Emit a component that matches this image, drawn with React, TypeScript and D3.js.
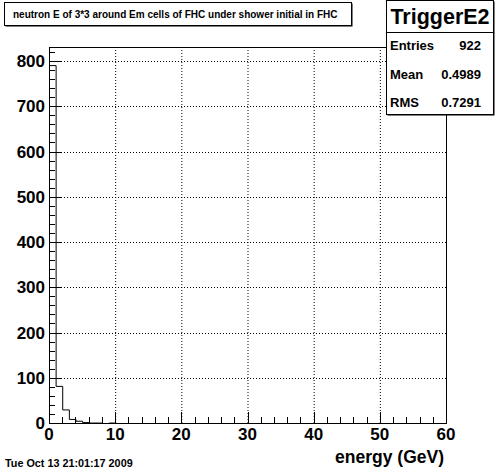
import React from "react";
import * as d3 from "d3";

const binEdgesStart = 0;
const binWidth = 1;
const binCounts = [791, 82, 30, 9, 5, 2, 1, 1, 0, 1, 0, 0, 0, 0, 0, 0, 0, 0, 0, 0, 0, 0, 0, 0, 0, 0, 0, 0, 0, 0, 0, 0, 0, 0, 0, 0, 0, 0, 0, 0, 0, 0, 0, 0, 0, 0, 0, 0, 0, 0, 0, 0, 0, 0, 0, 0, 0, 0, 0, 0];
const xTicks = [0, 10, 20, 30, 40, 50, 60];
const yTicks = [0, 100, 200, 300, 400, 500, 600, 700, 800];
const titleText = "neutron E of 3*3 around Em cells of FHC under shower initial in FHC";
const statsName = "TriggerE2";
const statsLabels = ["Entries", "Mean", "RMS"];
const statsValues = ["922", "0.4989", "0.7291"];
const xAxisTitle = "energy (GeV)";
const dateText = "Tue Oct 13 21:01:17 2009";

const W = 496, H = 472;
const FL = 49, FR = 446, FT = 47, FB = 423;
const FONT = "'Liberation Sans', Arial, Helvetica, sans-serif";

export default function App() {
  const x = d3.scaleLinear().domain([0, 60]).range([FL, FR]);
  const y = d3.scaleLinear().domain([0, 831]).range([FB, FT]);

  // step path
  const pts: [number, number][] = [[0, 0]];
  binCounts.forEach((c, i) => {
    const x0 = binEdgesStart + i * binWidth;
    pts.push([x0, c]);
    pts.push([x0 + binWidth, c]);
  });
  pts.push([60, 0]);
  const line = d3.line<[number, number]>().x(d => x(d[0])).y(d => y(d[1]));

  const xMinor = d3.range(0, 60.01, 2);
  const yMinor = d3.range(0, 831, 20);

  return (
    <svg width={W} height={H} style={{ position: "absolute", left: 0, top: 0, background: "#fff" }} fontFamily={FONT}>
      <rect x={0} y={0} width={W} height={H} fill="#fff" />
      {/* grid */}
      {xTicks.filter(t => t > 0 && t < 60).map(t => (
        <line key={"gx" + t} x1={x(t) + 0.5} x2={x(t) + 0.5} y1={FT} y2={FB} stroke="#000" strokeDasharray="1,2" />
      ))}
      {yTicks.filter(t => t > 0).map(t => (
        <line key={"gy" + t} x1={FL} x2={FR} y1={Math.round(y(t)) + 0.5} y2={Math.round(y(t)) + 0.5} stroke="#000" strokeDasharray="1,2" />
      ))}
      {/* frame */}
      <rect x={FL + 0.5} y={FT + 0.5} width={FR - FL} height={FB - FT} fill="none" stroke="#000" />
      {/* histogram */}
      <path d={line(pts) || ""} fill="none" stroke="#000" strokeWidth={1} transform="translate(0.5,0.5)" />
      {/* y ticks */}
      {yMinor.map(t => {
        const major = t % 100 === 0;
        const yy = Math.round(y(t)) + 0.5;
        return <line key={"yt" + t} x1={FL} x2={FL + (major ? 12 : 6)} y1={yy} y2={yy} stroke="#000" />;
      })}
      {/* x ticks */}
      {xMinor.map(t => {
        const major = t % 10 === 0;
        const xx = Math.round(x(t)) + 0.5;
        return <line key={"xt" + t} x1={xx} x2={xx} y1={FB} y2={FB - (major ? 11 : 6)} stroke="#000" />;
      })}
      {/* y labels */}
      {yTicks.map(t => (
        <text key={"yl" + t} x={45} y={y(t) + 6} textAnchor="end" fontSize={17} fontWeight="bold">{t}</text>
      ))}
      {/* x labels */}
      {xTicks.map(t => (
        <text key={"xl" + t} x={x(t)} y={440} textAnchor="middle" fontSize={17} fontWeight="bold">{t}</text>
      ))}
      <text x={444} y={463} textAnchor="end" fontSize={17.5} fontWeight="bold">{xAxisTitle}</text>
      <text x={5} y={467} fontSize={10.8} fontWeight="bold">{dateText}</text>
      {/* title box */}
      <rect x={5.5} y={3.5} width={347} height={23} fill="#000" />
      <rect x={4.5} y={2.5} width={347} height={23} fill="#fff" stroke="#000" />
      <text x={13} y={18} fontSize={10} fontWeight="bold">{titleText}</text>
      {/* stats box */}
      <rect x={387.5} y={1.5} width={107} height={114} fill="#000" />
      <rect x={386.5} y={0.5} width={107} height={114} fill="#fff" stroke="#000" />
      <line x1={386.5} x2={493.5} y1={32.5} y2={32.5} stroke="#000" />
      <text x={440} y={24} textAnchor="middle" fontSize={21.5} fontWeight="bold">{statsName}</text>
      {statsLabels.map((l, i) => (
        <g key={l}>
          <text x={390} y={50 + i * 28.5} fontSize={13} fontWeight="bold">{l}</text>
          <text x={481} y={50 + i * 28.5} textAnchor="end" fontSize={13} fontWeight="bold">{statsValues[i]}</text>
        </g>
      ))}
    </svg>
  );
}
